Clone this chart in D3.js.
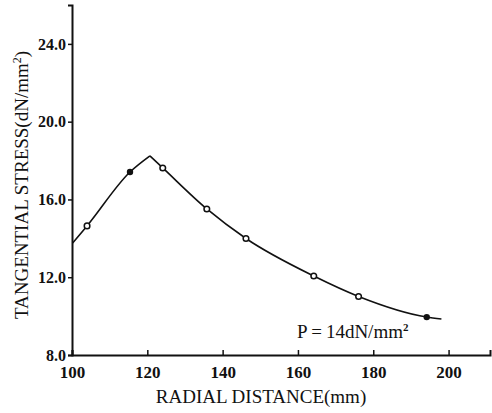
<!DOCTYPE html>
<html lang="en">
<head>
<meta charset="UTF-8">
<title>Tangential stress vs radial distance</title>
<script src="https://d3js.org/d3.v7.min.js"></script>
<style>
  body { margin: 0; background: #fff; }
  svg text { font-family: "Liberation Serif", "Times New Roman", serif; fill: #111; }
</style>
</head>
<body>
<div id="chart"></div>
<script>
// data
const xTicks = [100, 120, 140, 160, 180, 200];
const yTicks = [8, 12, 16, 20, 24];

// rising branch (up to the peak) and falling branch
const riseX = [100.2, 104.0, 115.4, 120.7];
const riseY = [13.76, 14.64, 17.41, 18.24];
const fallX = [120.7, 124.1, 135.8, 146.2, 164.2, 176.1, 194.2, 198.1];
const fallY = [18.24, 17.62, 15.51, 13.99, 12.06, 11.01, 9.95, 9.85];

// measured points
const openX = [104.0, 124.1, 135.8, 146.2, 164.2, 176.1];
const openY = [14.64, 17.62, 15.51, 13.99, 12.06, 11.01];
const filledX = [115.4, 194.2];
const filledY = [17.41, 9.95];

const W = 492, H = 413;
const svg = d3.select("#chart").append("svg")
    .attr("width", W).attr("height", H);

const x = d3.scaleLinear().domain([100, 211]).range([72, 490]);
const y = d3.scaleLinear().domain([8, 26]).range([355, 5]);

// axes
const xAxis = svg.append("g")
    .attr("transform", `translate(0,${y(8)})`)
    .call(d3.axisBottom(x).tickValues(xTicks).tickSize(-5).tickPadding(11).tickFormat(d3.format("d")));
const yAxis = svg.append("g")
    .attr("transform", `translate(${x(100)},0)`)
    .call(d3.axisLeft(y).tickValues(yTicks).tickSize(4).tickPadding(2).tickFormat(d3.format(".1f")));

[xAxis, yAxis].forEach(g => {
    g.select(".domain").attr("stroke", "#111").attr("stroke-width", 2);
    g.selectAll(".tick line").attr("stroke", "#111").attr("stroke-width", 1.5);
    g.selectAll(".tick text")
        .style("font-family", '"Liberation Serif", serif')
        .style("font-weight", "bold")
        .attr("fill", "#111");
});
xAxis.selectAll(".tick text").style("font-size", "17px").attr("dy", "0.71em");
yAxis.selectAll(".tick text").style("font-size", "16px");

// curve
const line = d3.line()
    .x(d => x(d[0])).y(d => y(d[1]))
    .curve(d3.curveMonotoneX);

svg.append("path")
    .datum(riseX.map((v, i) => [v, riseY[i]]))
    .attr("d", line)
    .attr("fill", "none").attr("stroke", "#111").attr("stroke-width", 1.6);
svg.append("path")
    .datum(fallX.map((v, i) => [v, fallY[i]]))
    .attr("d", line)
    .attr("fill", "none").attr("stroke", "#111").attr("stroke-width", 1.6);

// markers
svg.selectAll(".open")
    .data(openX.map((v, i) => [v, openY[i]]))
    .enter().append("circle")
    .attr("class", "open")
    .attr("cx", d => x(d[0])).attr("cy", d => y(d[1]))
    .attr("r", 2.8)
    .attr("fill", "#fff").attr("stroke", "#111").attr("stroke-width", 1.5);
svg.selectAll(".filled")
    .data(filledX.map((v, i) => [v, filledY[i]]))
    .enter().append("circle")
    .attr("class", "filled")
    .attr("cx", d => x(d[0])).attr("cy", d => y(d[1]))
    .attr("r", 3.2)
    .attr("fill", "#111");

// titles
svg.append("text")
    .attr("x", 261).attr("y", 403)
    .attr("text-anchor", "middle")
    .style("font-size", "19px")
    .text("RADIAL DISTANCE(mm)");

const yt = svg.append("text")
    .attr("transform", "translate(28,185) rotate(-90)")
    .attr("text-anchor", "middle")
    .style("font-size", "19px");
yt.append("tspan").text("TANGENTIAL STRESS(dN/mm");
yt.append("tspan").attr("dy", -7).style("font-size", "12px").text("2");
yt.append("tspan").attr("dy", 7).text(")");

const p = svg.append("text")
    .attr("x", 297).attr("y", 338)
    .style("font-size", "19px");
p.append("tspan").text("P\u2009=\u200914dN/mm");
p.append("tspan").attr("dy", -7).style("font-size", "11px").style("font-weight", "bold").text("2");
</script>
</body>
</html>
